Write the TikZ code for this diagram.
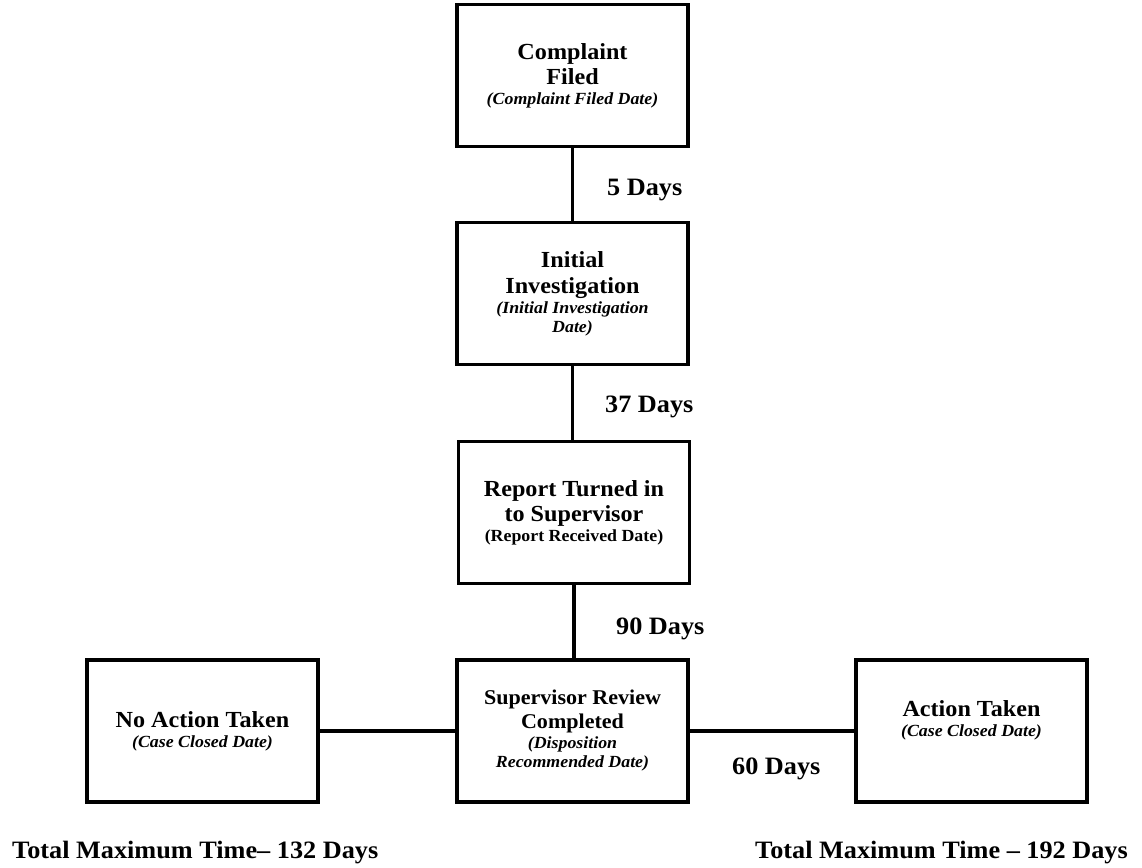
\documentclass[tikz,border=0pt]{standalone}
\usepackage{fontspec}
\setmainfont{Liberation Serif}[FakeStretch=1.05]
\begin{document}
\begin{tikzpicture}[x=1pt,y=-1pt,
  box/.style={draw, line width=3.5pt, minimum width=231pt, minimum height=142pt, inner sep=0pt, align=center,
    font=\bfseries\fontsize{23}{26}\selectfont},
  conn/.style={line width=3.2pt},
  lab/.style={font=\bfseries\fontsize{25}{28}\selectfont, anchor=base west, inner sep=0pt}]
\useasboundingbox (0,0) rectangle (1142,867);
\newcommand{\subit}[1]{{\fontsize{17}{19}\selectfont\itshape #1}}
\newcommand{\subup}[1]{{\fontsize{17}{19}\selectfont #1}}
\node[box] (comp) at (572.5,75.5) {Complaint\\[-1pt]Filed\\[-6pt]\subit{(Complaint Filed Date)}};
\node[box] (init) at (572.5,293.5) {Initial\\Investigation\\[-6pt]\subit{(Initial Investigation}\\[-7pt]\subit{Date)}};
\node[box] (rep) at (574,512.5) {Report Turned in\\[-1pt]to Supervisor\\[-6pt]\subup{(Report Received Date)}};
\node[box, font=\bfseries\fontsize{21}{24}\selectfont] (sup) at (572.5,731) {Supervisor Review\\Completed\\[-4pt]\subit{(Disposition}\\[-5pt]\subit{Recommended Date)}};
\node[box] (noact) at (202.5,731) {No Action Taken\\[-6pt]\subit{(Case Closed Date)}};
\node[box] (act) at (971.5,731) {};
\node[align=center, inner sep=0pt, font=\bfseries\fontsize{23}{26}\selectfont] (actt) at ([yshift=11pt]act.center) {Action Taken\\[-6pt]\subit{(Case Closed Date)}};
\draw[conn] (comp.south) -- (init.north);
\draw[conn] (init.south) -- (init.south |- rep.north);
\draw[conn] (rep.south) -- (rep.south |- sup.north);
\draw[conn] (noact.east) -- (noact.east -| sup.west);
\draw[conn] (sup.east) -- (sup.east -| act.west);
\node[lab] (l5) at (607,195) {5 Days};
\node[lab] (l37) at (605,412) {37 Days};
\node[lab] (l90) at (616,634) {90 Days};
\node[lab] (l60) at (732,774) {60 Days};
\node[lab] (t132) at (12,858) {Total Maximum Time– 132 Days};
\node[lab] (t192) at (755,858) {Total Maximum Time – 192 Days};
\end{tikzpicture}
\end{document}
